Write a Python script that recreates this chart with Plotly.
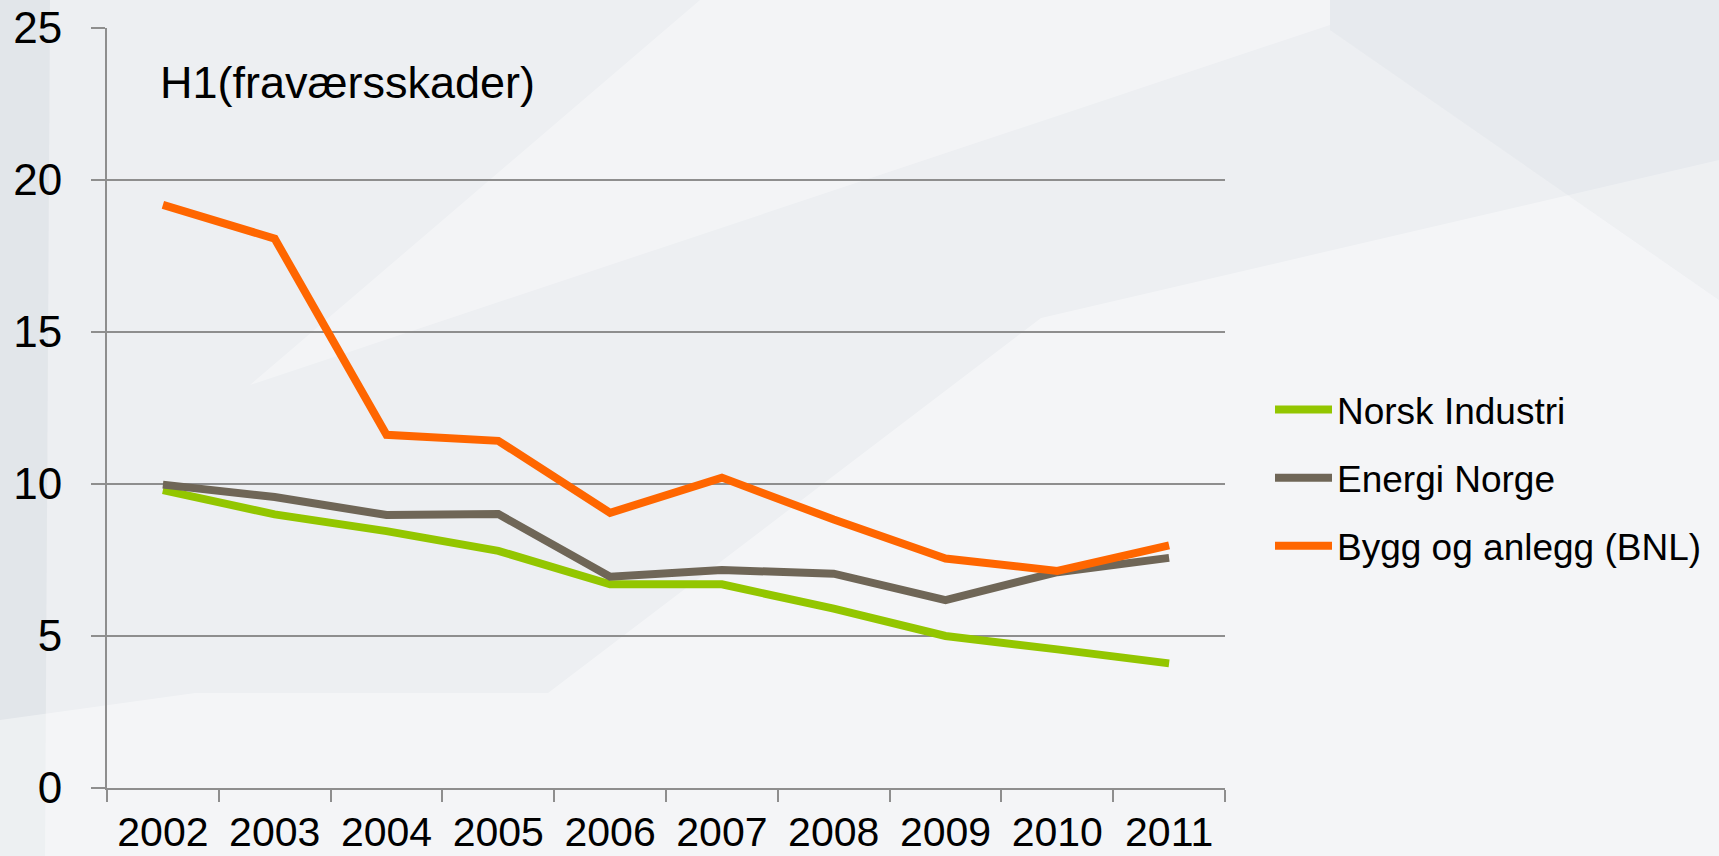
import plotly.graph_objects as go

years = ["2002", "2003", "2004", "2005", "2006", "2007", "2008", "2009", "2010", "2011"]
norsk_industri = [9.8, 9.0, 8.45, 7.8, 6.7, 6.7, 5.9, 5.0, 4.56, 4.1]
energi_norge = [9.98, 9.57, 8.98, 9.01, 6.95, 7.17, 7.05, 6.18, 7.1, 7.57]
bygg_anlegg = [19.18, 18.07, 11.62, 11.42, 9.05, 10.21, 8.83, 7.55, 7.14, 7.98]

series_names = ["Norsk Industri", "Energi Norge", "Bygg og anlegg (BNL)"]
series_values = [norsk_industri, energi_norge, bygg_anlegg]
series_colors = ["#93C600", "#6F6657", "#FF6600"]

y_ticks = [0, 5, 10, 15, 20, 25]
chart_label = "H1(fraværsskader)"

FONT = "Liberation Sans, Arial, sans-serif"

fig = go.Figure()
for name, vals, col in zip(series_names, series_values, series_colors):
    fig.add_trace(go.Scatter(
        x=years, y=vals, name=name, mode="lines",
        line=dict(color=col, width=8),
        legendgroup=name,
    ))

W, H = 1719, 856
L, R, T, B = 107, 1225, 28, 788

# subtle background decoration, given in pixel coords and converted to paper coords
bg_shapes = [
    ("M 0 0 L 50 0 L 45 856 L 0 856 Z", "rgba(170,178,190,0.15)"),
    ("M 0 856 L 0 720 L 195 693 L 548 693 L 1041 318 L 1719 160 L 1719 856 Z", "rgba(255,255,255,0.40)"),
    ("M 250 385 L 700 0 L 1330 0 L 1330 25 Z", "rgba(255,255,255,0.35)"),
    ("M 1330 0 L 1719 0 L 1719 300 L 1330 30 Z", "rgba(190,196,205,0.10)"),
]

def px_path_to_paper(path):
    toks = path.split()
    out = []
    i = 0
    while i < len(toks):
        t = toks[i]
        if t in ("M", "L"):
            x = float(toks[i + 1]); y = float(toks[i + 2])
            xp = (x - L) / (R - L)
            yp = (B - y) / (B - T)
            out.append(f"{t} {xp:.5f} {yp:.5f}")
            i += 3
        else:
            out.append(t)
            i += 1
    return " ".join(out)

final_shapes = [dict(type="path", path=px_path_to_paper(p), xref="paper", yref="paper",
                     fillcolor=c, line=dict(width=0), layer="below") for p, c in bg_shapes]

fig.update_layout(
    width=W, height=H,
    margin=dict(l=L, r=W - R, t=T, b=H - B, pad=0, autoexpand=False),
    paper_bgcolor="#EDEFF2",
    plot_bgcolor="rgba(0,0,0,0)",
    font=dict(family=FONT, color="#000000"),
    shapes=final_shapes,
    showlegend=True,
    legend=dict(
        x=(1270 - L) / (R - L), xanchor="left", y=(B - 478) / (B - T), yanchor="middle",
        font=dict(size=37, family=FONT, color="#000000"),
        bgcolor="rgba(0,0,0,0)",
        tracegroupgap=17,
        itemwidth=57,
    ),
    xaxis=dict(
        type="category", tickson="boundaries",
        showgrid=False, showline=True, linecolor="#8E8E8E", linewidth=2,
        ticks="outside", ticklen=12, tickcolor="#8E8E8E", tickwidth=2,
        tickfont=dict(size=41, family=FONT, color="#000000"),
        ticklabelstandoff=7,
        range=[-0.5, 9.5],
    ),
    yaxis=dict(
        range=[0, 25], tickvals=y_ticks,
        showgrid=True, gridcolor="#8E8E8E", gridwidth=2,
        showline=True, linecolor="#8E8E8E", linewidth=2,
        ticks="outside", ticklen=14, tickcolor="#8E8E8E", tickwidth=2,
        tickfont=dict(size=44, family=FONT, color="#000000"),
        ticklabelstandoff=20,
        zeroline=False,
    ),
    annotations=[dict(
        text=chart_label, xref="paper", yref="paper",
        x=(158 - L) / (R - L), y=(B - 82) / (B - T), xanchor="left", yanchor="middle",
        showarrow=False, font=dict(size=45, family=FONT, color="#000000"),
    )],
)

fig.write_html("out.html", config={"displayModeBar": False},
               post_script="document.body.style.margin='0';document.body.style.overflow='hidden';")
